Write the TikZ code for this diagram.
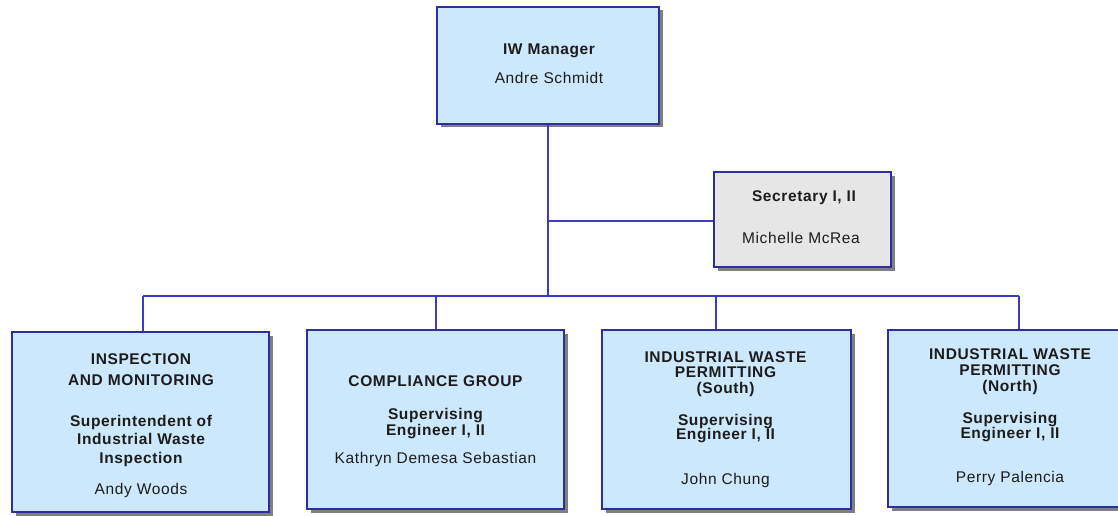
\documentclass[tikz,border=0pt]{standalone}
\usepackage{fontspec}
\setmainfont{Liberation Sans}[LetterSpace=4]
\usetikzlibrary{shadows}
\definecolor{boxfill}{HTML}{CCE8FC}
\definecolor{secfill}{HTML}{E6E6E6}
\definecolor{bordc}{HTML}{2E2E9C}
\definecolor{connc}{HTML}{3B3BC4}
\definecolor{txtc}{HTML}{1C1C1C}
\tikzset{
  orgbox/.style={draw=bordc, line width=2.5pt, fill=boxfill, inner sep=0pt,
    drop shadow={shadow xshift=3.5pt, shadow yshift=-3.5pt, fill=black!55, opacity=0.9}},
  secbox/.style={orgbox, fill=secfill},
  conn/.style={draw=connc, line width=2pt},
  lbl/.style={inner sep=0pt, text height=11pt, text depth=0pt, text=txtc,
    font=\fontsize{15.5}{18}\selectfont},
  blbl/.style={lbl, font=\fontsize{15.5}{18}\selectfont\bfseries},
}
\begin{document}
\begin{tikzpicture}[x=1pt,y=-1pt]
\useasboundingbox (0,0) rectangle (1118,516);
\clip (0,0) rectangle (1118,516);
\fill[white] (0,0) rectangle (1118,516);
% boxes (geometry only)
\node[orgbox, minimum width=222pt, minimum height=117pt] (mgr) at (548,65.5) {};
\node[secbox, minimum width=177pt, minimum height=95pt] (sec) at (802.5,219.5) {};
% connectors
\coordinate (trunk) at (548,221);
\coordinate (busm) at (548,296);
\coordinate (bus1) at (143,296);
\coordinate (bus2) at (436,296);
\coordinate (bus3) at (716,296);
\coordinate (bus4) at (1019,296);
\draw[conn] (mgr.south) -- (busm);
\draw[conn] (trunk) -- (trunk -| sec.west);
\draw[conn] (bus1) -- (bus4);
\node[orgbox, minimum width=257pt, minimum height=180pt] (b1) at (140.5,422) {};
\node[orgbox, minimum width=257pt, minimum height=179pt] (b2) at (435.5,419.5) {};
\node[orgbox, minimum width=249pt, minimum height=179pt] (b3) at (726.5,419.5) {};
\node[orgbox, minimum width=244pt, minimum height=177pt] (b4) at (1010,418.5) {};
\draw[conn] (bus1) -- (bus1 |- b1.north);
\draw[conn] (bus2) -- (bus2 |- b2.north);
\draw[conn] (bus3) -- (bus3 |- b3.north);
\draw[conn] (bus4) -- (bus4 |- b4.north);
% texts
\node[blbl] (mgrt) at (549,49) {IW Manager};
\node[lbl] (mgrn) at (549,78) {Andre Schmidt};
\node[blbl] (sect) at (804,196) {Secretary I, II};
\node[lbl] (secn) at (801,238) {Michelle McRea};
% box 1
\node[blbl] (b1a) at (141,359) {INSPECTION};
\node[blbl] (b1b) at (141,379.5) {AND MONITORING};
\node[blbl] (b1c) at (141,420.5) {Superintendent of};
\node[blbl] (b1d) at (141,439) {Industrial Waste};
\node[blbl] (b1e) at (141,458) {Inspection};
\node[lbl] (b1n) at (141,489) {Andy Woods};
% box 2
\node[blbl] (b2a) at (435.5,380.5) {COMPLIANCE GROUP};
\node[blbl] (b2b) at (435.5,414) {Supervising};
\node[blbl] (b2c) at (435.5,429.5) {Engineer I, II};
\node[lbl] (b2n) at (435.5,458) {Kathryn Demesa Sebastian};
% box 3
\node[blbl] (b3a) at (725.5,356.5) {INDUSTRIAL WASTE};
\node[blbl] (b3b) at (725.5,372) {PERMITTING};
\node[blbl] (b3c) at (725.5,387.5) {(South)};
\node[blbl] (b3d) at (725.5,419.5) {Supervising};
\node[blbl] (b3e) at (725.5,434) {Engineer I, II};
\node[lbl] (b3n) at (725.5,479) {John Chung};
% box 4
\node[blbl] (b4a) at (1010,354) {INDUSTRIAL WASTE};
\node[blbl] (b4b) at (1010,370) {PERMITTING};
\node[blbl] (b4c) at (1010,386) {(North)};
\node[blbl] (b4d) at (1010,418) {Supervising};
\node[blbl] (b4e) at (1010,432.5) {Engineer I, II};
\node[lbl] (b4n) at (1010,477) {Perry Palencia};
\end{tikzpicture}
\end{document}
